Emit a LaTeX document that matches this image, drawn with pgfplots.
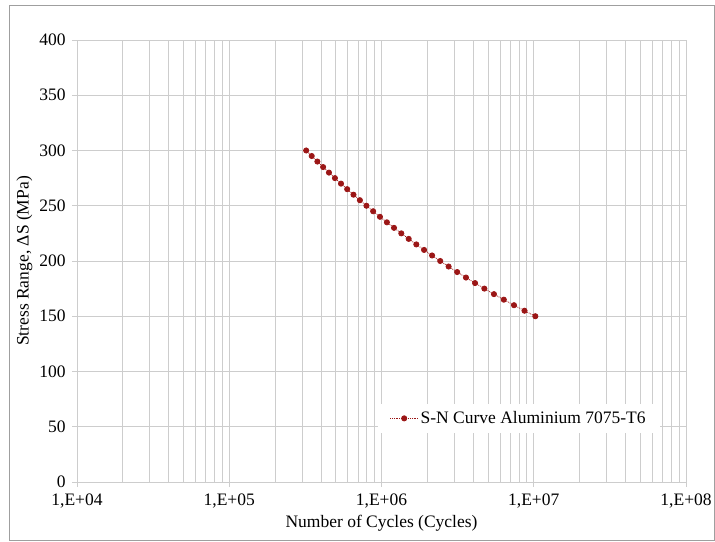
\documentclass[border=0pt]{standalone}
\usepackage{fontspec}
\setmainfont{Liberation Serif}
\usepackage{pgfplots}
\pgfplotsset{compat=1.18}

\definecolor{snred}{RGB}{155,22,22}
\definecolor{gridgray}{RGB}{205,205,205}
\newcommand\cf{\fontsize{17.5bp}{21bp}\selectfont}

\begin{document}
\begin{tikzpicture}[x=1bp,y=1bp]
% page size and outer frame
\path (-77,-60) rectangle (638,482);
\draw[gray!75, line width=1bp] (-67,-59) rectangle (637,476);
\begin{axis}[
  at={(0,0)}, anchor=south west,
  width=609bp, height=442bp, scale only axis,
  font=\cf,
  xmode=log,
  xmin=1e4, xmax=1e8,
  ymin=0, ymax=400,
  xtick={1e4,1e5,1e6,1e7,1e8},
  xticklabels={{1,E+04},{1,E+05},{1,E+06},{1,E+07},{1,E+08}},
  minor xtick={2e4,3e4,4e4,5e4,6e4,7e4,8e4,9e4,
               2e5,3e5,4e5,5e5,6e5,7e5,8e5,9e5,
               2e6,3e6,4e6,5e6,6e6,7e6,8e6,9e6,
               2e7,3e7,4e7,5e7,6e7,7e7,8e7,9e7},
  ytick={0,50,...,400},
  /pgf/number format/assume math mode=true,
  xmajorgrids, xminorgrids, ymajorgrids,
  major grid style={gridgray, line width=0.8bp},
  minor grid style={gridgray, line width=0.8bp},
  axis x line*=bottom, axis y line*=left,
  axis line style={gridgray, line width=0.8bp, -},
  tick style={gridgray, line width=0.8bp},
  major tick length=5bp, minor tick length=0bp,
  tick align=outside,
  xticklabel style={yshift=-3bp},
  yticklabel style={xshift=-3bp},
  xlabel={Number of Cycles (Cycles)},
  ylabel={Stress Range, ΔS (MPa)},
  xlabel style={yshift=0bp},
  ylabel style={yshift=0bp},
  legend style={at={(0.957,0.11)}, anchor=south east, draw=none, fill=white,
    font=\cf, inner xsep=12bp, inner ysep=6bp},
  legend image code/.code={
    \draw[#1, mark repeat=2, mark phase=2]
      plot coordinates {(0bp,0bp) (14bp,0bp) (28bp,0bp)};},
]
\addplot[snred, densely dotted, line width=0.8bp,
  mark=*, mark size=2.6bp, mark options={solid, fill=snred}]
  coordinates {
  (320000,300) (348000,295) (379100,290) (413500,285) (451700,280)
  (494300,275) (541900,270) (595000,265) (654500,260) (721200,255)
  (796300,250) (880900,245) (976600,240) (1085000,235) (1208100,230)
  (1348500,225) (1508800,220) (1692600,215) (1904000,210) (2147800,205)
  (2430000,200) (2757900,195) (3140400,190) (3588400,185) (4115200,180)
  (4737700,175) (5476600,170) (6358200,165) (7415800,160) (8691600,155)
  (10240000,150)
  };
\addlegendentry{S-N Curve Aluminium 7075-T6}
\end{axis}
\end{tikzpicture}
\end{document}
